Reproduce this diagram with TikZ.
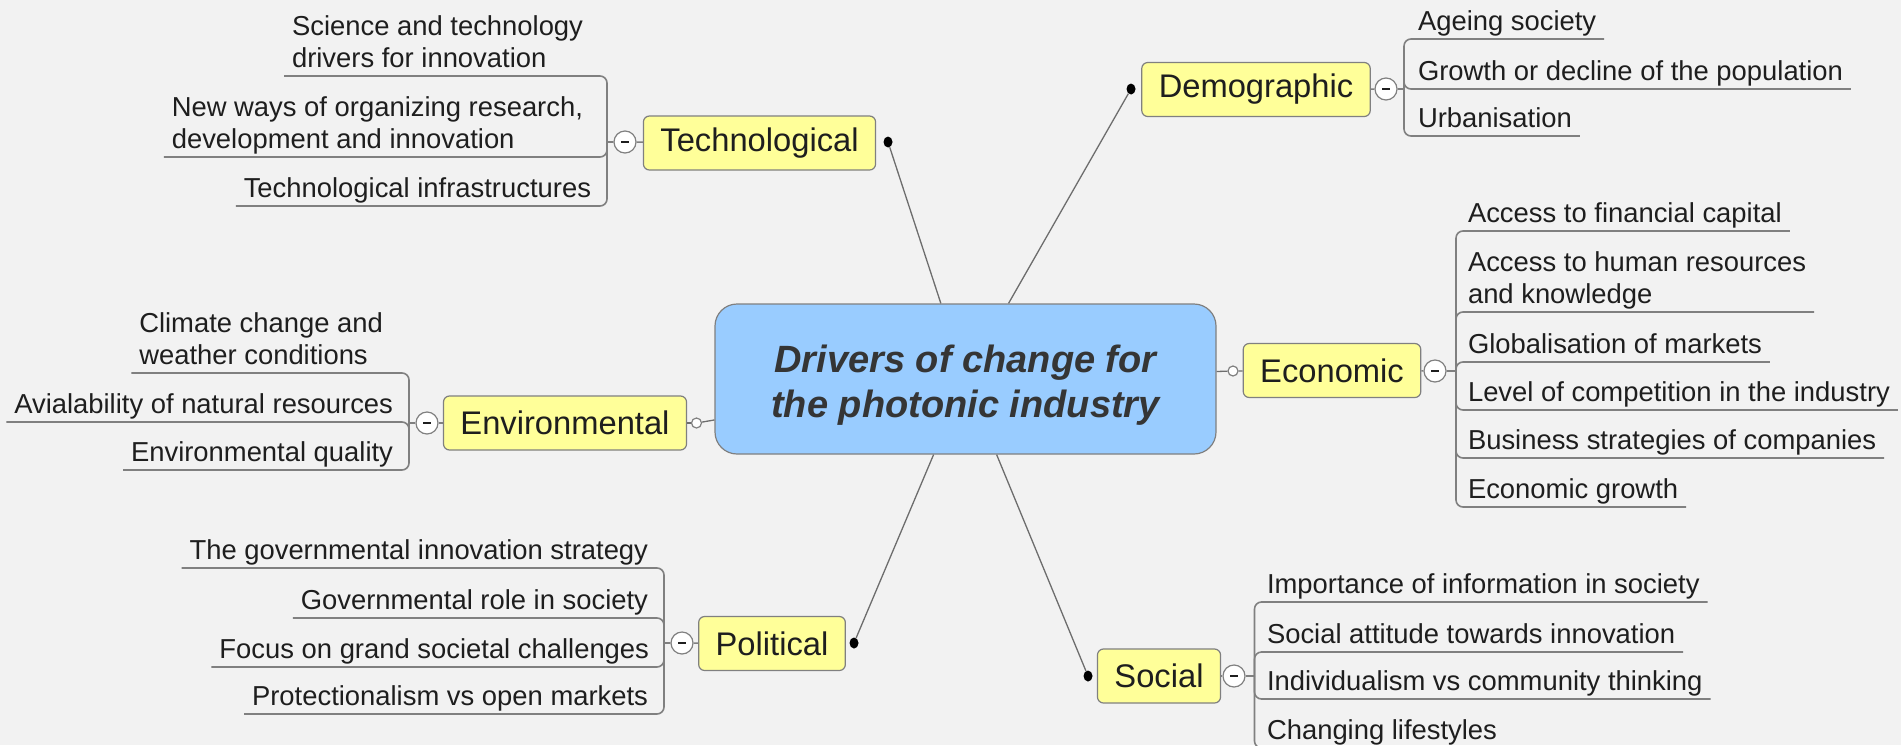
\documentclass[tikz,border=0pt]{standalone}
\usepackage{fontspec}
\setmainfont{Liberation Sans}
\usetikzlibrary{shapes.geometric}

\definecolor{paper}{HTML}{F2F2F2}
\definecolor{hubblue}{HTML}{99CCFF}
\definecolor{topicyellow}{HTML}{FFFF99}
\definecolor{wire}{HTML}{808080}
\definecolor{ink}{HTML}{1E1E1E}

\tikzset{
	hub/.style={draw=wire, line width=1.2pt, fill=hubblue, rounded corners=22pt, minimum width=501pt, minimum height=150pt, align=center, text height=85pt, text depth=8pt, text=ink!90, font=\fontsize{38}{45}\selectfont\bfseries\itshape},
	topic/.style={draw=wire, line width=1.2pt, fill=topicyellow, rounded corners=6pt, minimum height=54pt, inner xsep=17pt, text=ink, font=\fontsize{32.7}{38}\selectfont},
	leaf/.style={inner xsep=8pt, inner ysep=9pt, outer sep=0pt, text depth=0pt, align=left, text=ink, font=\fontsize{27.4}{32}\selectfont},
	knob/.style={circle, draw=wire, line width=1.2pt, fill=white, minimum size=22pt, inner sep=0pt, path picture={\draw[ink, line width=1.6pt] ([xshift=-4pt]path picture bounding box.center) -- ([xshift=4pt]path picture bounding box.center);}},
	tipdot/.style={ellipse, fill=black, minimum width=9pt, minimum height=11pt, inner sep=0pt},
	tipring/.style={circle, draw=wire, line width=1.2pt, fill=white, minimum size=10pt, inner sep=0pt},
	spoke/.style={draw=wire!85!black, line width=1.3pt},
	twig/.style={draw=wire, line width=1.6pt, rounded corners=7pt},
}

\begin{document}
\begin{tikzpicture}[x=1pt, y=-1pt]
	\useasboundingbox (0,0) rectangle (1901,745);
	\fill[paper] (0,0) rectangle (1901,745);

	\node[hub] (core) at (965.5,379) {Drivers of change for\\the photonic industry};

	\node[topic] (tech) at (759.5,143) {Technological};
	\node[topic] (demo) at (1256,89.5) {Demographic};
	\node[topic] (econ) at (1332,370.5) {Economic};
	\node[topic] (env) at (565,423) {Environmental};
	\node[topic] (pol) at (772,643.5) {Political};
	\node[topic] (soc) at (1159,676) {Social};

	\node[tipdot] (tech_d) at (888,142) {};
	\node[tipdot] (demo_d) at (1131,89) {};
	\node[tipring] (econ_d) at (1233,371) {};
	\node[tipring] (env_d) at (696.5,423) {};
	\node[tipdot] (pol_d) at (854,643) {};
	\node[tipdot] (soc_d) at (1088,676) {};

	\draw[spoke] (core) -- (tech_d);
	\draw[spoke] (core) -- (demo_d);
	\draw[spoke] (core) -- (econ_d);
	\draw[spoke] (core) -- (env_d);
	\draw[spoke] (core) -- (pol_d);
	\draw[spoke] (core) -- (soc_d);
	\draw[spoke] (econ_d) -- (econ);
	\draw[spoke] (env_d) -- (env);

	\node[knob] (tech_k) at (625,142) {};
	\node[knob] (demo_k) at (1386,89) {};
	\node[knob] (econ_k) at (1435,371) {};
	\node[knob] (env_k) at (427,423) {};
	\node[knob] (pol_k) at (682,643) {};
	\node[knob] (soc_k) at (1234,676) {};

	\coordinate (tech_t) at (607,142);
	\coordinate (demo_t) at (1404,89);
	\coordinate (econ_t) at (1456,371);
	\coordinate (env_t) at (409,423);
	\coordinate (pol_t) at (664,643);
	\coordinate (soc_t) at (1254.5,676);

	\draw[twig] (tech) -- (tech_k) -- (tech_t);
	\draw[twig] (demo) -- (demo_k) -- (demo_t);
	\draw[twig] (econ) -- (econ_k) -- (econ_t);
	\draw[twig] (env) -- (env_k) -- (env_t);
	\draw[twig] (pol) -- (pol_k) -- (pol_t);
	\draw[twig] (soc) -- (soc_k) -- (soc_t);

	% technological
	\node[leaf, anchor=south east] (tech_1) at (591,76) {Science and technology\\drivers for innovation};
	\node[leaf, anchor=south east] (tech_2) at (591,157) {New ways of organizing research,\\development and innovation};
	\node[leaf, anchor=south east] (tech_3) at (599,206) {Technological infrastructures};
	\draw[twig] (tech_t) |- (tech_1.south west);
	\draw[twig] (tech_t) |- (tech_2.south west);
	\draw[twig] (tech_t) |- (tech_3.south west);

	% demographic
	\node[leaf, anchor=south west] (demo_1) at (1410,39) {Ageing society};
	\node[leaf, anchor=south west] (demo_2) at (1410,89) {Growth or decline of the population};
	\node[leaf, anchor=south west] (demo_3) at (1410,136) {Urbanisation};
	\draw[twig] (demo_t) |- (demo_1.south east);
	\draw[twig] (demo_t) |- (demo_2.south east);
	\draw[twig] (demo_t) |- (demo_3.south east);

	% economic
	\node[leaf, anchor=south west] (econ_1) at (1460,231) {Access to financial capital};
	\node[leaf, anchor=south west] (econ_2) at (1460,312) {Access to human resources\\and knowledge};
	\node[leaf, anchor=south west] (econ_3) at (1460,362) {Globalisation of markets};
	\node[leaf, anchor=south west] (econ_4) at (1460,410) {Level of competition in the industry};
	\node[leaf, anchor=south west] (econ_5) at (1460,458) {Business strategies of companies};
	\node[leaf, anchor=south west] (econ_6) at (1460,507) {Economic growth};
	\draw[twig] (econ_t) |- (econ_1.south east);
	\draw[twig] (econ_t) |- (econ_2.south east);
	\draw[twig] (econ_t) |- (econ_3.south east);
	\draw[twig] (econ_t) |- (econ_4.south east);
	\draw[twig] (econ_t) |- (econ_5.south east);
	\draw[twig] (econ_t) |- (econ_6.south east);

	% environmental
	\node[leaf, anchor=south east] (env_1) at (391,373) {Climate change and\\weather conditions};
	\node[leaf, anchor=south east] (env_2) at (401,422) {Avialability of natural resources};
	\node[leaf, anchor=south east] (env_3) at (401,470) {Environmental quality};
	\draw[twig] (env_t) |- (env_1.south west);
	\draw[twig] (env_t) |- (env_2.south west);
	\draw[twig] (env_t) |- (env_3.south west);

	% political
	\node[leaf, anchor=south east] (pol_1) at (656,568) {The governmental innovation strategy};
	\node[leaf, anchor=south east] (pol_2) at (656,618) {Governmental role in society};
	\node[leaf, anchor=south east] (pol_3) at (657,667) {Focus on grand societal challenges};
	\node[leaf, anchor=south east] (pol_4) at (656,714) {Protectionalism vs open markets};
	\draw[twig] (pol_t) |- (pol_1.south west);
	\draw[twig] (pol_t) |- (pol_2.south west);
	\draw[twig] (pol_t) |- (pol_3.south west);
	\draw[twig] (pol_t) |- (pol_4.south west);

	% social
	\node[leaf, anchor=south west] (soc_1) at (1259,602) {Importance of information in society};
	\node[leaf, anchor=south west] (soc_2) at (1259,652) {Social attitude towards innovation};
	\node[leaf, anchor=south west] (soc_3) at (1259,699) {Individualism vs community thinking};
	\node[leaf, anchor=south west] (soc_4) at (1259,748) {Changing lifestyles};
	\draw[twig] (soc_t) |- (soc_1.south east);
	\draw[twig] (soc_t) |- (soc_2.south east);
	\draw[twig] (soc_t) |- (soc_3.south east);
	\draw[twig] (soc_t) |- (soc_4.south east);
\end{tikzpicture}
\end{document}
